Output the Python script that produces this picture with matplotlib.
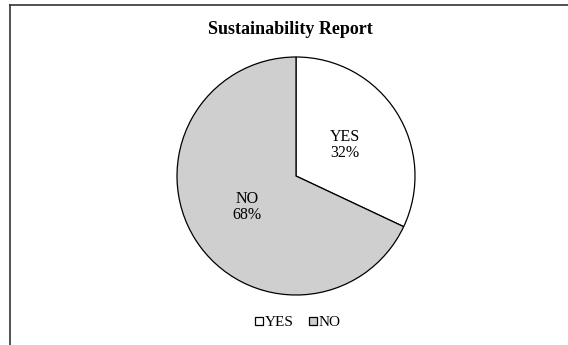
import matplotlib
matplotlib.use("Agg")
import numpy as np
import matplotlib.pyplot as plt
from matplotlib.lines import Line2D

labels = ["YES", "NO"]
shares = [32, 68]
colours = ["#ffffff", "#d0cfcf"]

plt.rcParams['font.family'] = ['Liberation Serif', 'DejaVu Serif']

fig = plt.figure(figsize=(5.68, 3.45), dpi=100)

# frame round the chart (only top and left edges show in the crop)
fig.add_artist(Line2D([10 / 568, 1.0], [1 - 5 / 345, 1 - 5 / 345], color="#333333", lw=1.2))
fig.add_artist(Line2D([10 / 568, 10 / 568], [1 - 5 / 345, 0.0], color="#333333", lw=1.2))

# pie area: centre ~ (296,176), radius ~119 px
r = 119
cx, cy = 296, 176
ax = fig.add_axes([(cx - r) / 568, 1 - (cy + r) / 345, 2 * r / 568, 2 * r / 345])

wedges, texts = ax.pie(shares, colors=colours, startangle=90, counterclock=False,
                       wedgeprops=dict(edgecolor="black", linewidth=0.9))
ax.set_xlim(-1, 1)
ax.set_ylim(-1, 1)
ax.set_aspect("equal")

for w, lab, val in zip(wedges, labels, shares):
    ang = np.deg2rad((w.theta1 + w.theta2) / 2)
    ax.text(0.49 * np.cos(ang), 0.49 * np.sin(ang), f"{lab}\n{val}%",
            ha="center", va="center", fontsize=11.5, linespacing=1.0)

fig.text(290 / 568, 1 - 29 / 345, "Sustainability Report", ha="center", va="center",
         fontsize=13, fontweight="bold")

fig.legend(wedges, labels, loc="center", bbox_to_anchor=(298 / 568, 1 - 323 / 345),
           ncol=2, frameon=False, fontsize=11, handlelength=0.5, handleheight=0.5,
           handletextpad=0.15, columnspacing=1.0)

fig.savefig("out.png", dpi=100)
